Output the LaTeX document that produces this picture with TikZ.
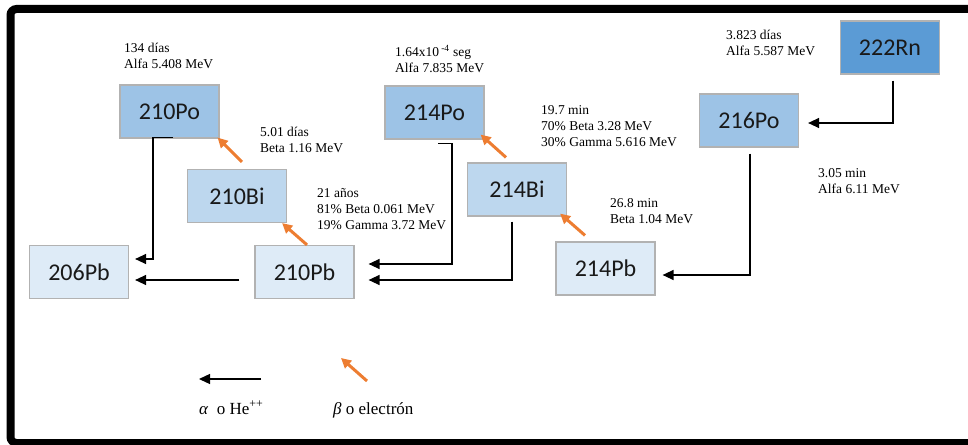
\documentclass[tikz,border=0pt]{standalone}
\usepackage{fontspec}
\setmainfont{Liberation Serif}
\newfontfamily\calibri{Carlito}
\usepackage{xcolor}
\usepackage{tikz}
\usetikzlibrary{arrows.meta, positioning, calc}

\definecolor{rnblue}{HTML}{5B9BD5}
\definecolor{poblue}{HTML}{9DC3E6}
\definecolor{biblue}{HTML}{BDD7EE}
\definecolor{pbblue}{HTML}{DEEBF7}
\definecolor{betaorange}{HTML}{ED7D31}

\begin{document}
\begin{tikzpicture}[x=1pt, y=-1pt,
            nuc_box/.style={rectangle, draw=black!30, line width=1.2pt, fill=#1,
        minimum width=99pt, minimum height=53pt, inner sep=0pt,
        font=\calibri\fontsize{24}{28}\selectfont, text=black!90},
        decay_text/.style={anchor=north west, inner sep=0pt, align=left,
        font=\fontsize{13.5}{16}\selectfont},
        key_text/.style={anchor=base west, inner sep=0pt, font=\fontsize{17}{20}\selectfont},
        alpha_arrow/.style={-{Triangle[length=11pt, width=10pt]}, line width=1.3pt, black},
        beta_arrow/.style={-{Triangle[length=10pt, width=10pt]}, line width=3pt, betaorange},
        frame_line/.style={line width=8pt, rounded corners=6pt}
            ]

            \useasboundingbox (0, 0) rectangle (968, 444);
            \clip (0, 0) rectangle (968, 444);

            % Outer frame
            \draw[frame_line] (10.5, 9) rectangle (985, 443);

            % Nuclei of the chain
            \node[nuc_box=rnblue] (rn222) at (890, 47.5)   {222Rn};
            \node[nuc_box=poblue] (po216) at (749, 120.5)  {216Po};
            \node[nuc_box=pbblue] (pb214) at (605.5, 268.5) {214Pb};
            \node[nuc_box=biblue] (bi214) at (517, 189.5)  {214Bi};
            \node[nuc_box=poblue] (po214) at (434.5, 112.5) {214Po};
            \node[nuc_box=pbblue] (pb210) at (304.5, 272)  {210Pb};
            \node[nuc_box=biblue] (bi210) at (237, 196)    {210Bi};
            \node[nuc_box=poblue] (po210) at (169.5, 111.5) {210Po};
            \node[nuc_box=pbblue] (pb206) at (79, 272)     {206Pb};

            % Half-lives and energies
            \node[decay_text] (t_rn222) at (726, 30)  {3.823 días\\Alfa 5.587 MeV};
            \node[decay_text] (t_po216) at (818, 168) {3.05 min\\Alfa 6.11 MeV};
            \node[decay_text] (t_pb214) at (610, 198) {26.8 min\\Beta 1.04 MeV};
            \node[decay_text] (t_bi214) at (541, 105)
                {19.7 min\\70\% Beta 3.28 MeV\\30\% Gamma 5.616 MeV};
            \node[decay_text] (t_po214) at (395, 45)
                {1.64x10\,\textsuperscript{-4} seg\\Alfa 7.835 MeV};
            \node[decay_text] (t_pb210) at (317, 188)
                {21 años\\81\% Beta 0.061 MeV\\19\% Gamma 3.72 MeV};
            \node[decay_text] (t_bi210) at (260, 127) {5.01 días\\Beta 1.16 MeV};
            \node[decay_text] (t_po210) at (124, 43)  {134 días\\Alfa 5.408 MeV};

            % Alpha decays
            \draw[alpha_arrow] ([xshift=3pt, yshift=-6pt]rn222.south)
                |- ([xshift=9pt, yshift=-2.5pt]po216.east);
            \draw[alpha_arrow] ([xshift=1pt, yshift=-6pt]po216.south)
                |- ([xshift=7pt, yshift=-6.5pt]pb214.east);
            \draw[alpha_arrow] ([xshift=3.5pt, yshift=-4pt]po214.south) -- ++(14, 0)
                |- ([xshift=14pt, yshift=8pt]pb210.east);
            \draw[alpha_arrow] ([xshift=-5pt, yshift=-5pt]bi214.south)
                |- ([xshift=14pt, yshift=-8pt]pb210.east);
            \draw[alpha_arrow] ([xshift=3.5pt, yshift=1pt]po210.south) -- ++(-20, 0)
                |- ([xshift=6pt, yshift=13pt]pb206.east);
            \draw[alpha_arrow] ([xshift=-15pt, yshift=-8pt]pb210.west)
                -- ([xshift=6pt, yshift=-8pt]pb206.east);

            % Beta decays
            \draw[beta_arrow] ([xshift=-20.5pt, yshift=6pt]pb214.north)
                -- ([xshift=-7pt, yshift=3pt]bi214.south east);
            \draw[beta_arrow] ([xshift=-11pt, yshift=5pt]bi214.north)
                -- ([xshift=-4pt, yshift=5pt]po214.south east);
            \draw[beta_arrow] ([xshift=2.5pt]pb210.north)
                -- ([xshift=-5pt]bi210.south east);
            \draw[beta_arrow] ([xshift=5pt, yshift=7pt]bi210.north)
                -- ([xshift=-2pt, yshift=1pt]po210.south east);

            % Key
            \coordinate (alpha_from) at (261, 379);
            \coordinate (alpha_to)   at (199, 379);
            \coordinate (beta_from)  at (367, 381);
            \coordinate (beta_to)    at (341, 358);
            \draw[alpha_arrow] (alpha_from) -- (alpha_to);
            \draw[beta_arrow]  (beta_from) -- (beta_to);
            \node[key_text] (alpha_key) at (199, 414) {\textit{α}\ \ o He\textsuperscript{++}};
            \node[key_text] (beta_key)  at (333, 414) {\textit{β} o electrón};

        \end{tikzpicture}
\end{document}
